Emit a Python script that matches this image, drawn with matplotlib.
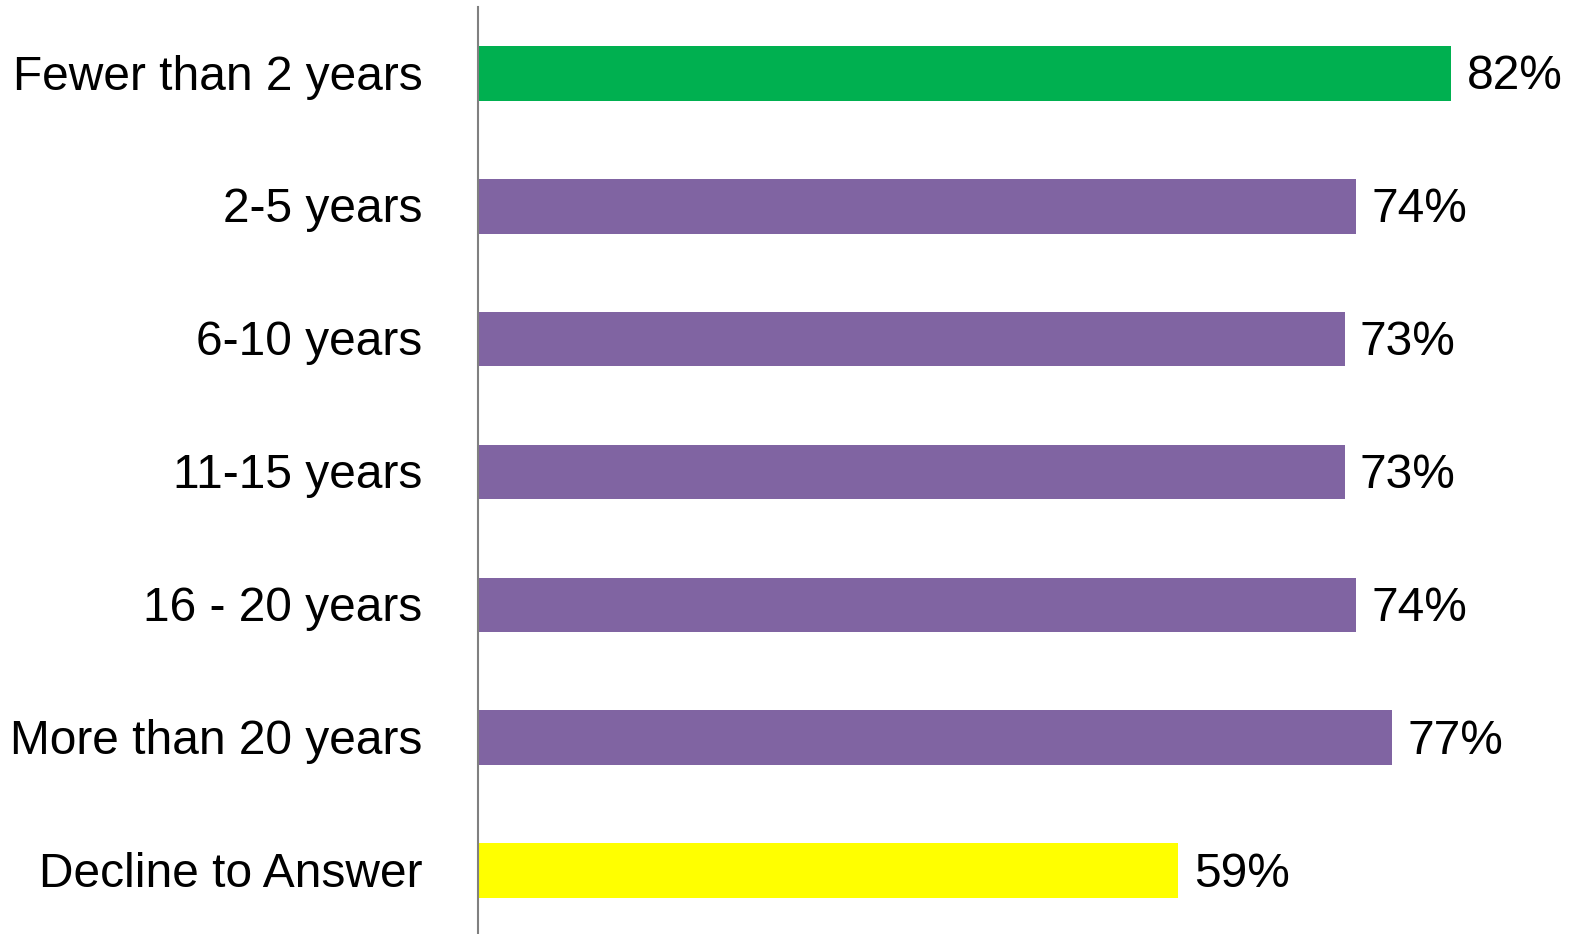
import matplotlib
matplotlib.use("Agg")
import matplotlib.pyplot as plt
import matplotlib.transforms as mtransforms

categories = ["Fewer than 2 years", "2-5 years", "6-10 years", "11-15 years",
              "16 - 20 years", "More than 20 years", "Decline to Answer"]
values = [82, 74, 73, 73, 74, 77, 59]
bar_colors = ["#00B050", "#8064A2", "#8064A2", "#8064A2", "#8064A2", "#8064A2", "#FFFF00"]

plt.rcParams["font.family"] = ["Liberation Sans", "DejaVu Sans"]

W, H = 1569, 934
fig = plt.figure(figsize=(W / 100, H / 100), dpi=100)
ax = fig.add_axes([478 / W, -3 / H, 1 - 478 / W, 930 / H])

pos = list(range(len(categories)))
ax.barh(pos, values, height=0.41, color=bar_colors)
ax.set_ylim(len(categories) - 0.5, -0.5)
ax.set_xlim(0, 91.9)

for p, v in zip(pos, values):
    ax.annotate(f"{v}%", xy=(v, p), xytext=(11, -2.5), textcoords="offset points",
                va="center", ha="left", fontsize=34.5, color="black")

ax.set_yticks(pos)
ax.set_yticklabels(categories, fontsize=34.5)
ax.tick_params(axis="y", length=0, pad=40)
shift = mtransforms.ScaledTranslation(0, 1 / 72, fig.dpi_scale_trans)
for lbl in ax.get_yticklabels():
    lbl.set_transform(lbl.get_transform() + shift)
ax.set_xticks([])
for side in ["top", "right", "bottom"]:
    ax.spines[side].set_visible(False)
ax.spines["left"].set_color("#808080")
ax.spines["left"].set_linewidth(1.5)

fig.savefig("out.png", dpi=100)
